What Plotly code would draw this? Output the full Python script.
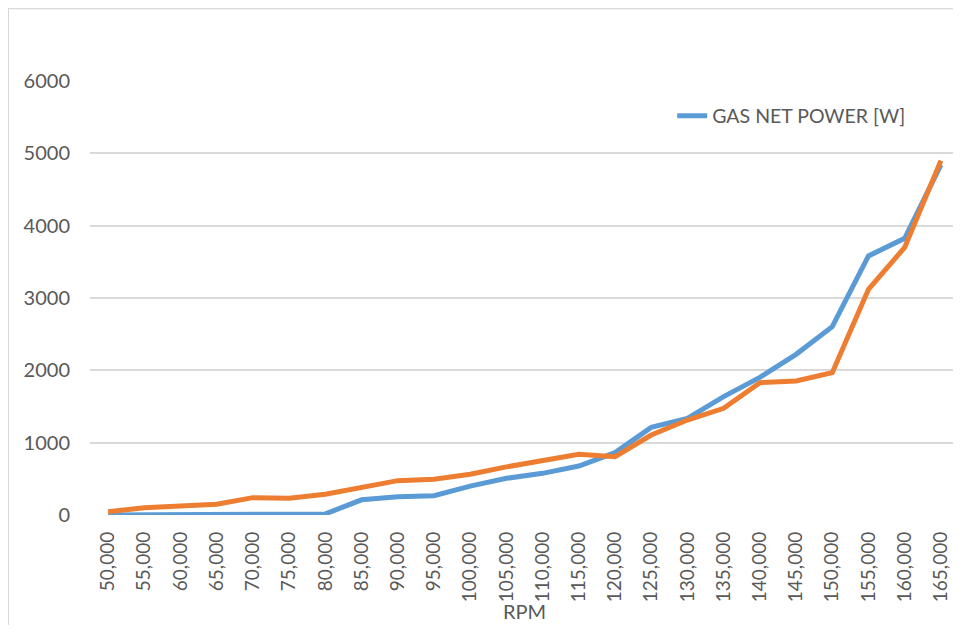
import plotly.graph_objects as go

rpm = [50000, 55000, 60000, 65000, 70000, 75000, 80000, 85000, 90000, 95000,
       100000, 105000, 110000, 115000, 120000, 125000, 130000, 135000, 140000,
       145000, 150000, 155000, 160000, 165000]

gas_net_power = [0, 0, 0, 0, 0, 0, 15, 210, 253, 267,
                 400, 507, 576, 677, 862, 1212, 1336, 1636, 1903,
                 2221, 2604, 3581, 3825, 4839]

second_series = [46, 101, 124, 148, 240, 231, 286, 383, 475, 493,
                 563, 665, 747, 839, 806, 1106, 1313, 1475, 1829,
                 1853, 1968, 3120, 3700, 4899]

y_ticks = [0, 1000, 2000, 3000, 4000, 5000, 6000]

labels = [f"{v:,}" for v in rpm]

font_family = "Lato, 'Open Sans', sans-serif"
grey_text = "#595959"

fig = go.Figure()

fig.add_trace(
    go.Scatter(
        x=labels,
        y=gas_net_power,
        mode="lines",
        name="GAS NET POWER [W]",
        line=dict(color="#5B9BD5", width=5),
    )
)

fig.add_trace(
    go.Scatter(
        x=labels,
        y=second_series,
        mode="lines",
        name="Series 2",
        showlegend=False,
        line=dict(color="#ED7D31", width=5),
    )
)

# chart frame: only its left and top edges show in the reference
fig.add_shape(
    type="rect",
    xref="paper",
    yref="paper",
    x0=-0.094,
    x1=1.2,
    y0=-0.6,
    y1=1.167,
    line=dict(color="#D9D9D9", width=1.5),
    fillcolor="rgba(0,0,0,0)",
    layer="below",
)

# axis title as an annotation, the margin is too tight for the built-in one
fig.add_annotation(
    text="RPM",
    xref="paper",
    yref="paper",
    x=0.5,
    y=-0.222,
    xanchor="center",
    yanchor="middle",
    showarrow=False,
    font=dict(size=20, color=grey_text),
)

fig.update_layout(
    width=953,
    height=617,
    margin=dict(l=82, r=2, t=73, b=110),
    paper_bgcolor="white",
    plot_bgcolor="white",
    font=dict(family=font_family, size=20, color=grey_text),
    showlegend=True,
    legend=dict(
        x=0.670,
        y=0.919,
        xanchor="left",
        yanchor="middle",
        bgcolor="rgba(0,0,0,0)",
        font=dict(size=19.5, color=grey_text),
    ),
    xaxis=dict(
        type="category",
        range=[-0.5, len(labels) - 0.5],
        automargin=False,
        tickangle=-90,
        showgrid=False,
        showline=False,
        zeroline=False,
        ticks="",
        ticklabelstandoff=12,
        tickfont=dict(size=19, color=grey_text),
    ),
    yaxis=dict(
        range=[0, 6000],
        automargin=False,
        tickvals=y_ticks,
        ticktext=[str(v) for v in y_ticks],
        showgrid=True,
        gridcolor="#D9D9D9",
        gridwidth=1.5,
        zeroline=False,
        showline=False,
        ticks="",
        ticklabelstandoff=19,
        tickfont=dict(size=20, color=grey_text),
    ),
)

fig.write_html("out.html")
